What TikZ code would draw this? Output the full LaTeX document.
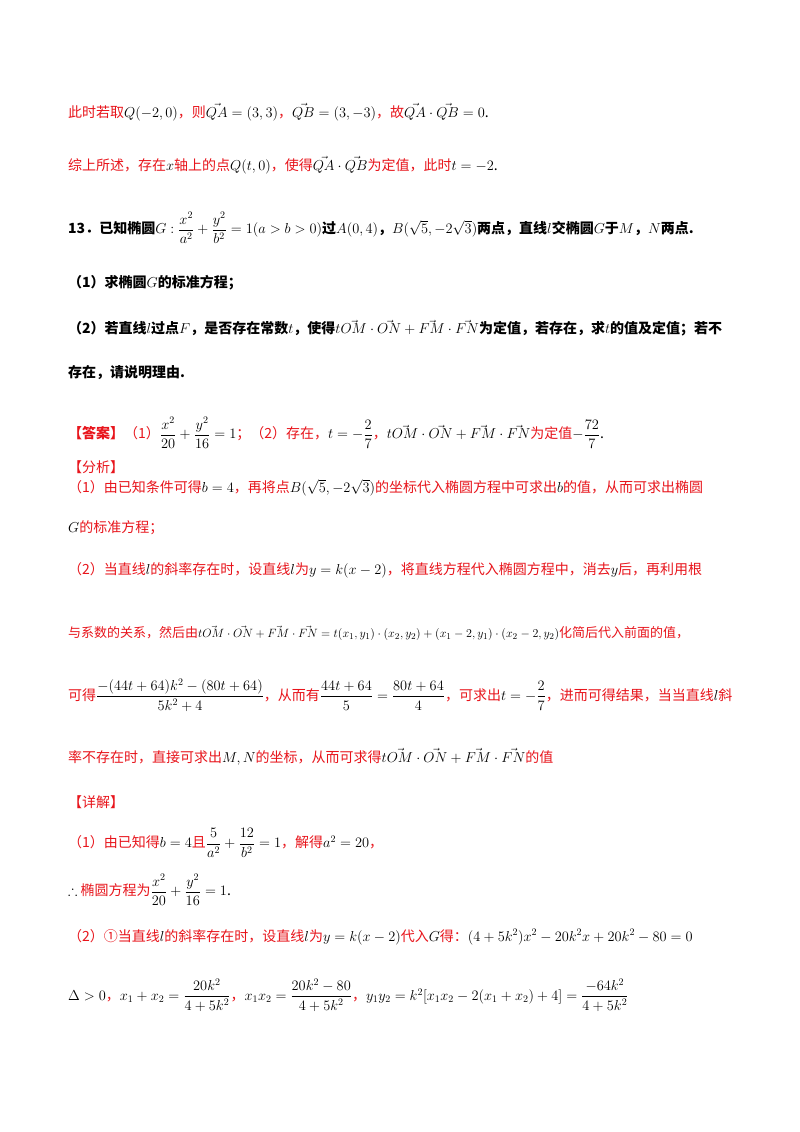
\documentclass[tikz,border=0pt]{standalone}
\usepackage{amsmath,amssymb}
\usepackage{fontspec}
\setmainfont{Noto Sans CJK SC}
\definecolor{rd}{HTML}{E8141B}
\newcommand{\R}[1]{\textcolor{rd}{#1}}
\newcommand{\V}[1]{\vec{#1}}
\begin{document}
\begin{tikzpicture}[x=1pt,y=-1pt,
  ln/.style={anchor=west,inner sep=0pt,font=\fontsize{14}{17}\selectfont}]
\fill[white] (0,0) rectangle (800,1132);
\useasboundingbox (0,0) rectangle (800,1132);
\node[ln] (l1) at (68,112) {\R{此时若取}$Q(-2,0)$\R{，则}$\V{QA}=(3,3)$\R{，}$\V{QB}=(3,-3)$\R{，故}$\V{QA}\cdot\V{QB}=0$.};
\node[ln] (l2) at (68,165) {\R{综上所述，存在}$x$\R{轴上的点}$Q(t,0)$\R{，使得}$\V{QA}\cdot\V{QB}$\R{为定值，此时}$t=-2$.};
\node[ln] (l3) at (68,228) {\textbf{13．已知椭圆}$G:\dfrac{x^2}{a^2}+\dfrac{y^2}{b^2}=1(a>b>0)$\textbf{过}$A(0,4)$\textbf{，}$B(\sqrt5,-2\sqrt3)$\textbf{两点，直线}$l$\textbf{交椭圆}$G$\textbf{于}$M$\textbf{，}$N$\textbf{两点.}};
\node[ln] (l4) at (68,283) {\textbf{（1）求椭圆}$G$\textbf{的标准方程；}};
\node[ln] (l5) at (68,328) {\textbf{（2）若直线}$l$\textbf{过点}$F$\textbf{，是否存在常数}$t$\textbf{，使得}$t\V{OM}\cdot\V{ON}+\V{FM}\cdot\V{FN}$\textbf{为定值，若存在，求}$t$\textbf{的值及定值；若不}};
\node[ln] (l6) at (68,373) {\textbf{存在，请说明理由.}};
\node[ln] (l7) at (68,433) {\R{\textbf{【答案】}（1）}$\dfrac{x^2}{20}+\dfrac{y^2}{16}=1$\R{；（2）存在，}$t=-\dfrac27$\R{，}$t\V{OM}\cdot\V{ON}+\V{FM}\cdot\V{FN}$\R{为定值}$-\dfrac{72}{7}$.};
\node[ln] (l8) at (68,467) {\R{【分析】}};
\node[ln] (l9) at (68,488) {\R{（1）由已知条件可得}$b=4$\R{，再将点}$B(\sqrt5,-2\sqrt3)$\R{的坐标代入椭圆方程中可求出}$b$\R{的值，从而可求出椭圆}};
\node[ln] (l10) at (68,528) {$G$\R{的标准方程；}};
\node[ln] (l11) at (68,570) {\R{（2）当直线}$l$\R{的斜率存在时，设直线}$l$\R{为}$y=k(x-2)$\R{，将直线方程代入椭圆方程中，消去}$y$\R{后，再利用根}};
\node[ln,font=\fontsize{13}{16}\selectfont] (l12) at (68,633) {\R{与系数的关系，然后由}$t\V{OM}\cdot\V{ON}+\V{FM}\cdot\V{FN}=t(x_1,y_1)\cdot(x_2,y_2)+(x_1-2,y_1)\cdot(x_2-2,y_2)$\R{化简后代入前面的值，}};
\node[ln] (l13) at (68,695) {\R{可得}$\dfrac{-(44t+64)k^2-(80t+64)}{5k^2+4}$\R{，从而有}$\dfrac{44t+64}{5}=\dfrac{80t+64}{4}$\R{，可求出}$t=-\dfrac27$\R{，进而可得结果，当当直线}$l$\R{斜}};
\node[ln] (l14) at (68,757) {\R{率不存在时，直接可求出}$M,N$\R{的坐标，从而可求得}$t\V{OM}\cdot\V{ON}+\V{FM}\cdot\V{FN}$\R{的值}};
\node[ln] (l15) at (68,802) {\R{【详解】}};
\node[ln] (l16) at (68,843) {\R{（1）由已知得}$b=4$\R{且}$\dfrac{5}{a^2}+\dfrac{12}{b^2}=1$\R{，解得}$a^2=20$\R{，}};
\node[ln] (l17) at (68,890) {$\therefore$\ \R{椭圆方程为}$\dfrac{x^2}{20}+\dfrac{y^2}{16}=1$.};
\node[ln] (l18) at (68,937) {\R{（2）①当直线}$l$\R{的斜率存在时，设直线}$l$\R{为}$y=k(x-2)$\R{代入}$G$\R{得：}$(4+5k^2)x^2-20k^2x+20k^2-80=0$};
\node[ln] (l19) at (68,995) {$\Delta>0$\R{，}$x_1+x_2=\dfrac{20k^2}{4+5k^2}$\R{，}$x_1x_2=\dfrac{20k^2-80}{4+5k^2}$\R{，}$y_1y_2=k^2[x_1x_2-2(x_1+x_2)+4]=\dfrac{-64k^2}{4+5k^2}$};
\end{tikzpicture}
\end{document}
